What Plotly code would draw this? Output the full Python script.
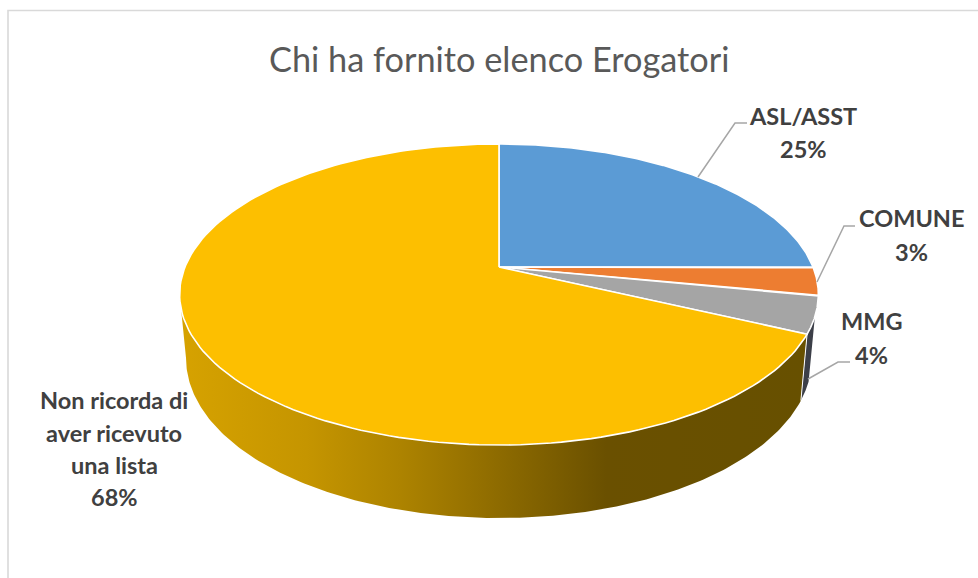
import numpy as np
import plotly.graph_objects as go

# Survey shares
categories = ["ASL/ASST", "COMUNE", "MMG", "Non ricorda di aver ricevuto una lista"]
values = [25, 3, 4, 68]
label_lines = [["ASL/ASST"], ["COMUNE"], ["MMG"], ["Non ricorda di", "aver ricevuto", "una lista"]]
top_colors = ["#5B9BD5", "#ED7D31", "#A5A5A5", "#FDBF00"]
title_text = "Chi ha fornito elenco Erogatori"

# Tilted-disc projection, in page pixels
CX, CY = 499.0, 267.0
K, Q, P = 314.0, 145.5, 0.1827
TEXT_DARK = "#404040"
LEADER = "#A6A6A6"


def rim(theta):
    """Top-face point for a clockwise angle (radians) measured from twelve o'clock."""
    u, v = np.sin(theta), np.cos(theta)
    d = 1 + P * v
    return CX + K * u / d, CY - Q * v / d


def lower_rim(theta):
    """Matching point on the bottom edge of the disc wall."""
    x, y = rim(theta)
    v = np.cos(theta)
    return CX + (x - CX) * 0.98, y + 61.5 - 11.5 * v


def wedge(a0, a1):
    t = np.linspace(a0, a1, 160)
    x, y = rim(t)
    return np.r_[CX, x, CX], np.r_[CY, y, CY]


def wall(a0, a1):
    t = np.linspace(a0, a1, 200)
    x0, y0 = rim(t)
    x1, y1 = lower_rim(t[::-1])
    return np.r_[x0, x1, x0[0]], np.r_[y0, y1, y0[0]]


edges = np.radians(np.r_[0, np.cumsum(values)] * 3.6)
fig = go.Figure()

# Side wall of the large slice, shaded from left to right
wx, wy = wall(edges[3], np.radians(259.5))
fig.add_trace(go.Scatter(
    x=wx, y=wy, mode="lines", fill="toself", line=dict(width=0), hoverinfo="skip",
    fillgradient=dict(type="horizontal", start=182, stop=806, colorscale=[
        [0.0, "#D6A200"], [0.2, "#C59500"], [0.35, "#AD8300"],
        [0.5, "#8F6C00"], [0.68, "#6A5000"], [1.0, "#675000"]]),
))

# Thin dark wall of the grey slice
gx, gy = wall(edges[2] + 0.55 * (edges[3] - edges[2]), edges[3])
fig.add_trace(go.Scatter(
    x=gx, y=gy, mode="lines", fill="toself", fillcolor="#3C3F48",
    line=dict(width=0), hoverinfo="skip",
))

# Separator between the two visible walls
sx0, sy0 = rim(edges[3])
sx1, sy1 = lower_rim(edges[3])
fig.add_trace(go.Scatter(
    x=[sx0, sx1], y=[sy0, sy1], mode="lines",
    line=dict(color="#FFFFFF", width=1), hoverinfo="skip",
))

# Top faces
for i, name in enumerate(categories):
    x, y = wedge(edges[i], edges[i + 1])
    fig.add_trace(go.Scatter(
        x=x, y=y, mode="lines", fill="toself", fillcolor=top_colors[i], name=name,
        line=dict(color="#FFFFFF", width=1.6), text=f"{name}: {values[i]}%", hoverinfo="text",
    ))

# Leader lines
leaders = [
    ([698, 735, 747], [177, 123, 123]),
    ([817, 844, 855], [282, 226, 226]),
    ([808, 838, 850], [379, 362, 362]),
]
for lx, ly in leaders:
    fig.add_trace(go.Scatter(x=lx, y=ly, mode="lines",
                             line=dict(color=LEADER, width=1.5), hoverinfo="skip"))

# Data labels, one annotation per line of text
label_x = [803, 911, 871, 114]
label_y = [
    [116, 149],
    [218, 252],
    [321, 355],
    [400, 433, 465, 497],
]
annotations = []
for i, lines in enumerate(label_lines):
    for text, y in zip(lines + [f"{values[i]}%"], label_y[i]):
        annotations.append(dict(
            x=label_x[i], y=y, text=f"<b>{text}</b>", showarrow=False,
            xanchor="center", yanchor="middle",
            font=dict(family="Lato", size=23.5, color=TEXT_DARK),
        ))
annotations.append(dict(
    x=499, y=58, text=title_text, showarrow=False, xanchor="center", yanchor="middle",
    font=dict(family="Lato", size=34.3, color="#595959"),
))

fig.update_layout(
    width=978, height=578, margin=dict(l=0, r=0, t=0, b=0),
    paper_bgcolor="#FFFFFF", plot_bgcolor="#FFFFFF", showlegend=False,
    xaxis=dict(range=[0, 978], visible=False, fixedrange=True),
    yaxis=dict(range=[578, 0], visible=False, fixedrange=True),
    annotations=annotations,
    shapes=[dict(type="rect", xref="x", yref="y", x0=8, y0=10.5, x1=990, y1=600,
                 line=dict(color="#D9D9D9", width=1.6), layer="below")],
)

fig.write_html("out.html", config={"displayModeBar": False})
